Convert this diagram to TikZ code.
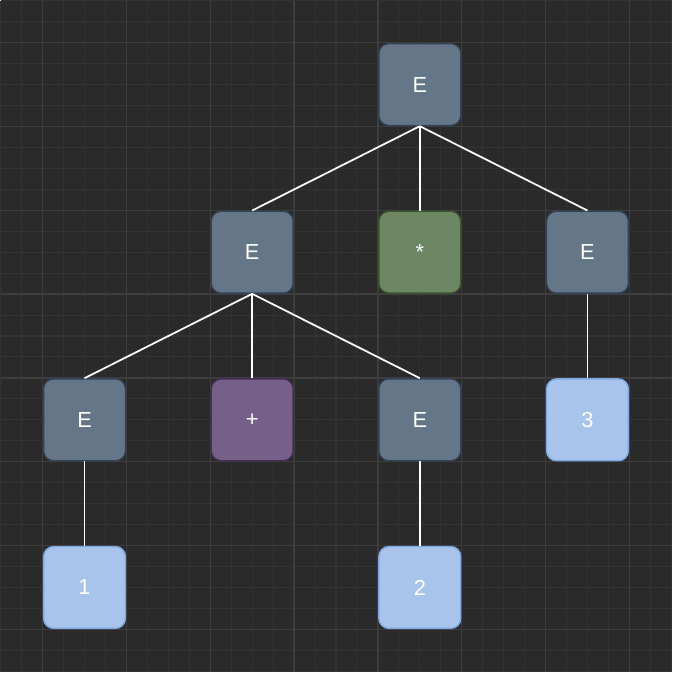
\documentclass[tikz,border=0pt]{standalone}
\usepackage{fontspec}
\setmainfont{Liberation Sans}
\definecolor{bg}{HTML}{2A2A2A}
\definecolor{gridminor}{HTML}{333333}
\definecolor{gridmajor}{HTML}{3D3D3D}
\definecolor{nonterm}{HTML}{647687}
\definecolor{nontermline}{HTML}{314354}
\definecolor{times}{HTML}{6D8764}
\definecolor{timesline}{HTML}{3A5431}
\definecolor{plus}{HTML}{76608A}
\definecolor{plusline}{HTML}{432D57}
\definecolor{leaf}{HTML}{A9C4EB}
\definecolor{leafline}{HTML}{7EA6E0}
\begin{document}
\begin{tikzpicture}
  [x=0.01cm,y=-0.01cm,
   box/.style={rounded corners=0.1cm,minimum size=0.82cm,inner sep=0pt,
     text=white,font=\fontsize{6.2}{7}\selectfont,line width=0.4pt},
   E/.style={box,fill=nonterm,draw=nontermline},
   op/.style={box,fill=#1,draw=#1line},
   num/.style={box,fill=leaf,draw=leafline},
   edge/.style={white,line width=0.5pt}]
  \fill[bg] (0,0) rectangle (673,673);
  \foreach \i in {0,21,...,672}{
    \draw[gridminor,line width=0.3pt] (\i,0) -- (\i,673);
    \draw[gridminor,line width=0.3pt] (0,\i) -- (673,\i);}
  \foreach \i in {42,126,...,672}{
    \draw[gridmajor,line width=0.4pt] (\i,0) -- (\i,673);
    \draw[gridmajor,line width=0.4pt] (0,\i) -- (673,\i);}

  \node[E] (e1) at (420,84) {E};
  \node[E] (e2) at (252,252) {E};
  \node[op=times] (t) at (420,252) {*};
  \node[E] (e3) at (588,252) {E};
  \node[E] (e4) at (84,420) {E};
  \node[op=plus] (p) at (252,420) {+};
  \node[E] (e5) at (420,420) {E};
  \node[num] (n3) at (588,420) {3};
  \node[num] (n1) at (84,588) {1};
  \node[num] (n2) at (420,588) {2};

  \draw[edge] (e1.south) -- (e2.north);
  \draw[edge] (e1.south) -- (t.north);
  \draw[edge] (e1.south) -- (e3.north);
  \draw[edge] (e2.south) -- (e4.north);
  \draw[edge] (e2.south) -- (p.north);
  \draw[edge] (e2.south) -- (e5.north);
  \draw[edge] (e3.south) -- (n3.north);
  \draw[edge] (e4.south) -- (n1.north);
  \draw[edge] (e5.south) -- (n2.north);
\end{tikzpicture}
\end{document}
